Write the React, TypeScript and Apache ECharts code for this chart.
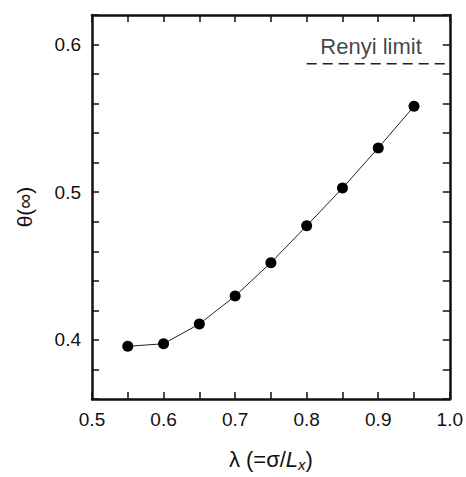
import React, { useEffect, useRef } from "react";
import * as echarts from "echarts";

const lambdaValues = [0.55, 0.6, 0.65, 0.7, 0.75, 0.8, 0.85, 0.9, 0.95];
const thetaValues = [0.3957, 0.3974, 0.4108, 0.4297, 0.4523, 0.4773, 0.5028, 0.530, 0.5582];
const renyiLimit = 0.587;
const renyiRange = [0.8, 1.0];
const renyiLabelPos = [0.89, 0.5985];

const FONT = "'Liberation Sans', Arial, sans-serif";

export default function App() {
  const ref = useRef<HTMLDivElement>(null);
  useEffect(() => {
    if (!ref.current) return;
    const chart = echarts.init(ref.current, undefined, { renderer: "svg" });
    const tickStyle = { show: true, inside: true, length: 7, lineStyle: { color: "#111", width: 1.5 } };
    const lineStyle = { show: true, onZero: false, lineStyle: { color: "#111", width: 2.5 } };
    const fmt = (v: number) => {
      const r = Math.round(v * 100);
      return r % 10 === 0 ? v.toFixed(1) : "";
    };
    chart.setOption({
      animation: false,
      backgroundColor: "#fff",
      textStyle: { fontFamily: FONT },
      grid: { left: 92, right: 16, top: 15, bottom: 60, containLabel: false },
      xAxis: [
        {
          type: "value",
          min: 0.5,
          max: 1.0,
          interval: 0.05,
          axisLine: lineStyle,
          axisTick: tickStyle,
          splitLine: { show: false },
          axisLabel: { color: "#111", fontSize: 19, margin: 11, fontFamily: FONT, formatter: fmt },
          name: "{n|λ (=σ/}{i|L}{s|x}{n|)}",
          nameLocation: "middle",
          nameGap: 48,
          nameTextStyle: {
            rich: {
              n: { fontSize: 22, color: "#111", fontFamily: FONT },
              i: { fontSize: 22, color: "#111", fontStyle: "italic", fontFamily: FONT },
              s: { fontSize: 15, color: "#111", fontStyle: "italic", fontFamily: FONT, verticalAlign: "bottom", padding: [10, 0, 0, 0] },
            },
          },
        },
        {
          type: "value",
          position: "top",
          min: 0.5,
          max: 1.0,
          interval: 0.05,
          axisLine: lineStyle,
          axisTick: tickStyle,
          splitLine: { show: false },
          axisLabel: { show: false },
        },
      ],
      yAxis: [
        {
          type: "value",
          min: 0.36,
          max: 0.62,
          interval: 0.02,
          axisLine: lineStyle,
          axisTick: tickStyle,
          splitLine: { show: false },
          axisLabel: { color: "#111", fontSize: 19, margin: 11, fontFamily: FONT, formatter: fmt },
          name: "θ(∞)",
          nameLocation: "middle",
          nameGap: 57,
          nameRotate: 90,
          nameTextStyle: { fontSize: 21, color: "#111", fontFamily: FONT },
        },
        {
          type: "value",
          position: "right",
          min: 0.36,
          max: 0.62,
          interval: 0.02,
          axisLine: lineStyle,
          axisTick: tickStyle,
          splitLine: { show: false },
          axisLabel: { show: false },
        },
      ],
      series: [
        {
          type: "line",
          data: lambdaValues.map((x, i) => [x, thetaValues[i]]),
          symbol: "circle",
          symbolSize: 11,
          itemStyle: { color: "#000" },
          lineStyle: { color: "#222", width: 1 },
        },
        {
          type: "line",
          data: renyiRange.map((x) => [x, renyiLimit]),
          symbol: "none",
          lineStyle: { color: "#222", width: 1.3, type: [10, 6] },
        },
        {
          type: "scatter",
          data: [renyiLabelPos],
          symbolSize: 0,
          label: {
            show: true,
            position: "inside",
            formatter: "Renyi limit",
            fontSize: 22,
            color: "#111",
            fontFamily: FONT,
          },
        },
      ],
    });
    return () => chart.dispose();
  }, []);
  return <div ref={ref} style={{ width: 466, height: 477, position: "absolute", left: 0, top: 0 }} />;
}
